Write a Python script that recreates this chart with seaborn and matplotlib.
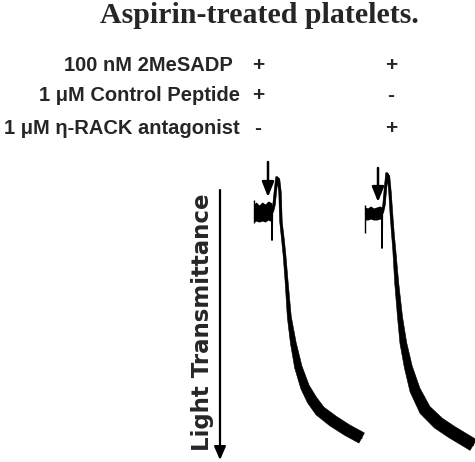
"""
Aggregometry traces for aspirin-treated platelets (2MeSADP, control peptide vs eta-RACK antagonist).
"""
import matplotlib
matplotlib.use("Agg")
import numpy as np
import pandas as pd
import seaborn as sns
from matplotlib import pyplot as plt
from matplotlib.patches import FancyArrowPatch

TITLE = "Aspirin-treated platelets."
ROW_LABELS = ["100 nM 2MeSADP", "1 \u03bcM Control Peptide", "1 \u03bcM \u03b7-RACK antagonist"]
CONTROL_SIGNS = ["+", "+", "-"]
ANTAGONIST_SIGNS = ["+", "-", "+"]
Y_LABEL = "Light Transmittance"

# time (s) at which the agonist was added (arrow)
ADDITION_TIME = 59.5
ARROW_FROM = [-20.0, -17.6]
ARROW_TO = [-6.0, -4.0]

# run 1: control peptide -- values are light transmittance (%), drawn downwards
ctrl_start_t = 13.2
ctrl_start_tick = [-4.8, 4.4]
ctrl_base_t = [13.2, 20, 30, 40, 50, 60, 72.7]
ctrl_base_hi = [-3.2, -4.0, -2.8, -4.0, -3.2, -4.4, -3.6]
ctrl_base_lo = [4.0, 3.6, 4.0, 3.6, 4.0, 3.2, 4.0]
ctrl_t = [72.7, 72.7, 73.5, 79.3, 84.3, 89.2, 94.2, 99.1, 102.4, 109, 114, 121.3,
          129.9, 143.1, 159.6, 181.7, 204.8, 231.3, 274.2, 320.5, 369.0]
ctrl_y = [0, 11.2, 0, -2.8, -8.8, -14, -13.2, -8, 4, 11.2, 17.2, 28.4,
          42, 52.4, 62, 70, 75.2, 79.6, 83.6, 87.2, 90.4]
ctrl_noise = [1.0, 1.0, 1.0, 1.0, 1.0, 1.0, 1.0, 1.0, 1.0, 1.1, 1.1, 1.2,
              1.6, 2.3, 3.0, 3.6, 4.2, 4.4, 4.6, 4.6, 4.6]

# run 2: eta-RACK antagonist
anta_start_t = 16.5
anta_start_tick = [-2.8, 8.4]
anta_base_t = [16.5, 25, 35, 45, 55, 65, 72.7]
anta_base_hi = [-2.0, -1.6, -2.4, -1.6, -2.0, -2.4, -2.0]
anta_base_lo = [3.2, 3.2, 2.8, 3.2, 3.2, 2.8, 3.2]
anta_t = [72.7, 72.7, 73.5, 79.3, 84.3, 89.2, 94.2, 99.1, 104, 109, 113.3, 121.3,
          132.2, 143.1, 159.6, 181.7, 214.8, 258.7, 302.9, 346.9, 374.3]
anta_y = [0.4, 14.4, 0.4, -2.8, -9.6, -15.6, -14.4, -8, 1.2, 9.2, 15.2, 28.4,
          42, 52.4, 62, 71.2, 79.2, 84.4, 88, 91.2, 93.2]
anta_noise = [1.0, 1.0, 1.0, 1.0, 1.0, 1.0, 1.0, 1.0, 1.1, 1.1, 1.2, 1.6,
              2.0, 2.7, 3.2, 4.2, 4.8, 5.0, 5.0, 5.0, 5.0]

W, H = 475, 462
sns.set_theme(style="white")
plt.rcParams["font.family"] = ["Liberation Sans", "DejaVu Sans"]

runs = pd.concat([
    pd.DataFrame({"time": ctrl_t, "transmittance": ctrl_y, "noise": ctrl_noise, "run": "control"}),
    pd.DataFrame({"time": anta_t, "transmittance": anta_y, "noise": anta_noise, "run": "antagonist"}),
])
baselines = {
    "control": (ctrl_start_t, ctrl_start_tick, ctrl_base_t, ctrl_base_hi, ctrl_base_lo),
    "antagonist": (anta_start_t, anta_start_tick, anta_base_t, anta_base_hi, anta_base_lo),
}

fig = plt.figure(figsize=(W / 100, H / 100), dpi=100)


def fx(x, y):
    return x / W, 1 - y / H


def noise_band(ax, t, y, noise, scale):
    """Polygon around the trace, as wide as the recording noise."""
    disp = ax.transData.transform(np.column_stack([t, y]))
    d = np.gradient(disp, axis=0)
    n = np.column_stack([-d[:, 1], d[:, 0]])
    n /= np.linalg.norm(n, axis=1, keepdims=True)
    half = (np.asarray(noise) * scale / 2)[:, None]
    poly = np.vstack([disp + n * half, (disp - n * half)[::-1]])
    return ax.transData.inverted().transform(poly)


# panel geometry in pixels: left edge, width; shared top/bottom
panel_left = [250, 360]
panel_w, panel_top = 115, 160
ylim = (100, -20.8)
px_per_pct = (H - panel_top) / (ylim[0] - ylim[1])

for i, run in enumerate(["control", "antagonist"]):
    ax = fig.add_axes([panel_left[i] / W, 0, panel_w / W, (H - panel_top) / H])
    ax.patch.set_visible(False)
    sub = runs[runs["run"] == run]
    sns.lineplot(data=sub, x="time", y="transmittance", ax=ax, sort=False, estimator=None,
                 color="black", lw=1.3, legend=False)
    ax.set_xlim(0, 380)
    ax.set_ylim(*ylim)

    tail = sub.iloc[2:]
    band = noise_band(ax, tail["time"].to_numpy(), tail["transmittance"].to_numpy(),
                      tail["noise"].to_numpy(), px_per_pct)
    ax.fill(band[:, 0], band[:, 1], color="black", lw=0.4, ec="black")

    start_t, tick, bt, bhi, blo = baselines[run]
    ax.vlines(start_t, tick[0], tick[1], color="black", lw=1.0)
    ax.fill_between(bt, bhi, blo, color="black", lw=0)

    ax.annotate("", xy=(ADDITION_TIME, ARROW_TO[i]), xytext=(ADDITION_TIME, ARROW_FROM[i]),
                arrowprops=dict(arrowstyle="-|>,head_length=0.75,head_width=0.3",
                                lw=1.8, color="black", shrinkA=0, shrinkB=0),
                annotation_clip=False)
    ax.axis("off")

# transmittance direction arrow
fig.add_artist(FancyArrowPatch(
    fx(220, 190), fx(220, 460), transform=fig.transFigure,
    arrowstyle="-|>,head_length=8,head_width=3.5", lw=1.6, color="black",
    shrinkA=0, shrinkB=0))
fig.text(*fx(202, 322), Y_LABEL, rotation=90, ha="center", va="center",
         family="DejaVu Sans", weight="bold", size=16.5)

fig.text(*fx(259, 23), TITLE, ha="center", va="baseline",
         family="Liberation Serif", weight="bold", size=21.5)

label_right = [233, 240, 240]
row_base = [71, 101, 134]
for label, xr, yb, s1, s2 in zip(ROW_LABELS, label_right, row_base, CONTROL_SIGNS, ANTAGONIST_SIGNS):
    fig.text(*fx(xr, yb), label, ha="right", va="baseline", weight="bold", size=14.5)
    fig.text(*fx(258, yb), s1, ha="center", va="baseline", weight="bold", size=15)
    fig.text(*fx(391, yb), s2, ha="center", va="baseline", weight="bold", size=15)

fig.savefig("out.png", dpi=100, facecolor="white")
